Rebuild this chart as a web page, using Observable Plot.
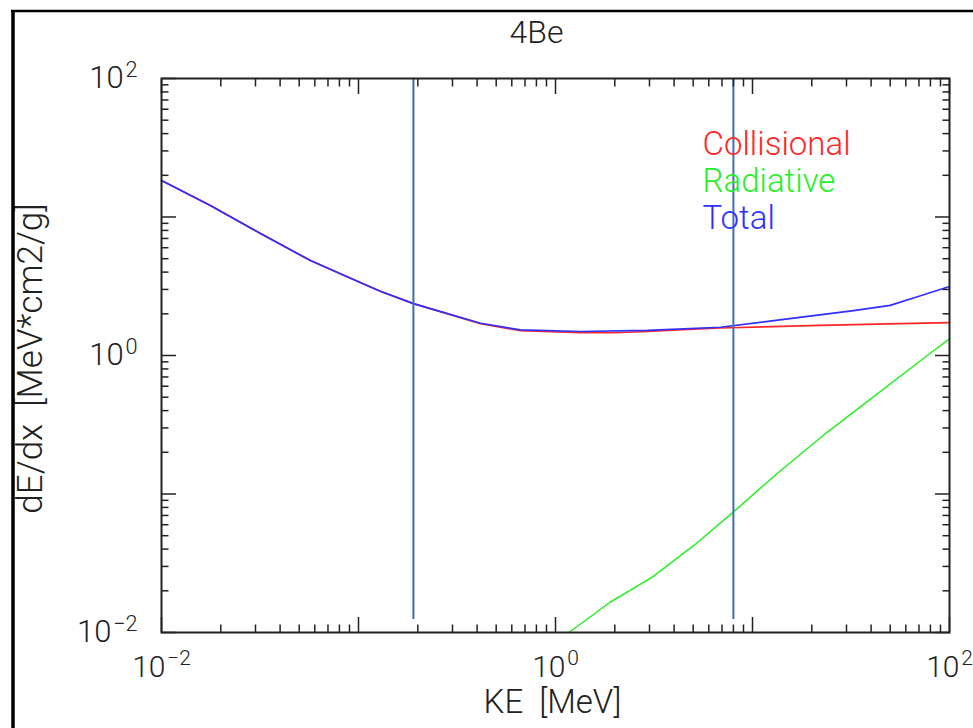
<!DOCTYPE html>
<html><head><meta charset="utf-8">
<script src="https://cdn.jsdelivr.net/npm/d3@7"></script>
<script src="https://cdn.jsdelivr.net/npm/@observablehq/plot@0.6"></script>
<style>html,body{margin:0;padding:0;background:#fff;overflow:hidden}</style>
</head><body><div id="chart"></div>
<script>
// ---- data ----
const title = "4Be";
const xLabel = "KE  [MeV]";
const yLabel = "dE/dx  [MeV*cm2/g]";
const seriesNames = ["Collisional", "Radiative", "Total"];
const seriesColors = ["#ff2626", "#26f026", "#3030ff"];

const energyColl = [0.01, 0.0177, 0.0318, 0.057, 0.102, 0.129, 0.19, 0.416, 0.664, 1.34, 1.97, 2.93, 6.88, 22.1, 48.4, 100];
const collisional = [18.35, 12.1, 7.6, 4.85, 3.37, 2.91, 2.37, 1.70, 1.51, 1.46, 1.46, 1.49, 1.58, 1.65, 1.69, 1.73];

const energyRad = [1.17, 1.90, 3.10, 5.04, 7.98, 13.3, 23.9, 43.0, 77.1, 100];
const radiative = [0.0100, 0.0166, 0.0251, 0.0425, 0.0740, 0.140, 0.279, 0.529, 1.00, 1.32];

const energyTot = [0.01, 0.0177, 0.0318, 0.057, 0.102, 0.129, 0.19, 0.416, 0.664, 1.34, 2.93, 6.88, 15.1, 32.6, 50, 71.3, 100];
const total = [18.35, 12.1, 7.6, 4.85, 3.37, 2.91, 2.37, 1.71, 1.53, 1.49, 1.52, 1.60, 1.84, 2.11, 2.30, 2.70, 3.15];

const markerEnergies = [0.19, 8.0];
const markerBottom = 0.0124;
const markerTop = 100;

const domain = [0.01, 100];
const majorTicks = [0.01, 0.1, 1, 10, 100];
const labelTicks = [0.01, 1, 100];
const minorTicks = [];
for (const p of [-2, -1, 0, 1]) for (let m = 2; m <= 9; m++) minorTicks.push(m * Math.pow(10, p));

// ---- build tables ----
const toRows = (xs, ys) => xs.map((x, i) => ({E: x, v: ys[i]}));
const collRows = toRows(energyColl, collisional);
const radRows = toRows(energyRad, radiative);
const totRows = toRows(energyTot, total);

const fmt = d => "10^" + Math.round(Math.log10(d));
const blank = () => "";
const axisCol = "#222";

const tickAxes = [];
for (const [axisFn, anchor] of [[Plot.axisX, "bottom"], [Plot.axisX, "top"], [Plot.axisY, "left"], [Plot.axisY, "right"]]) {
  tickAxes.push(axisFn({anchor, label: null, ticks: majorTicks, tickSize: -15, tickFormat: blank, stroke: axisCol, strokeWidth: 1.5}));
  tickAxes.push(axisFn({anchor, label: null, ticks: minorTicks, tickSize: -7.5, tickFormat: blank, stroke: axisCol, strokeWidth: 1.5}));
}

const chart = Plot.plot({
  width: 973,
  height: 728,
  marginLeft: 161,
  marginRight: 24,
  marginTop: 78,
  marginBottom: 96,
  style: {fontFamily: "Roboto, 'DejaVu Sans', sans-serif", fontWeight: 300, background: "#fff", color: axisCol},
  x: {type: "log", domain, label: null},
  y: {type: "log", domain, label: null},
  marks: [
    Plot.line(collRows, {x: "E", y: "v", stroke: seriesColors[0], strokeWidth: 1.7}),
    Plot.line(radRows, {x: "E", y: "v", stroke: seriesColors[1], strokeWidth: 1.5}),
    Plot.line(totRows, {x: "E", y: "v", stroke: seriesColors[2], strokeWidth: 1.7}),
    Plot.ruleX(markerEnergies, {x: d => d, y1: markerBottom, y2: markerTop, stroke: "#3b6fb6", strokeWidth: 2}),
    Plot.frame({stroke: axisCol, strokeWidth: 2}),
    ...tickAxes,
    Plot.axisX({anchor: "bottom", label: null, ticks: labelTicks, tickSize: 0, tickPadding: 23, tickFormat: fmt, fontSize: 30, fill: axisCol}),
    Plot.axisY({anchor: "left", label: null, ticks: labelTicks, tickSize: 0, tickPadding: 24, tickFormat: fmt, fontSize: 31, fill: axisCol}),
    ...seriesNames.map((s, i) => Plot.text([s], {frameAnchor: "top-left", dx: 541, dy: 76 + i * 37, text: d => d, textAnchor: "start", lineAnchor: "bottom", fill: seriesColors[i], fontSize: 33})),
    Plot.text([title], {frameAnchor: "top", dx: -19, dy: -36, text: d => d, textAnchor: "middle", lineAnchor: "bottom", fontSize: 32, fill: axisCol}),
    Plot.text([xLabel], {frameAnchor: "bottom", dx: -3, dy: 80, text: d => d, textAnchor: "middle", lineAnchor: "bottom", fontSize: 33, fill: axisCol}),
    Plot.text([yLabel], {frameAnchor: "left", dx: -120, dy: 3, rotate: -90, text: d => d, textAnchor: "middle", lineAnchor: "bottom", fontSize: 35, fill: axisCol})
  ]
});

// superscript exponents in tick labels
d3.select(chart).selectAll("text").each(function () {
  const t = this.textContent;
  const m = /^10\^(.+)$/.exec(t);
  if (m) {
    const el = d3.select(this);
    el.text("10");
    el.append("tspan").attr("dy", "-0.55em").attr("font-size", "0.7em").attr("dx", "0.08em").text(m[1].replace("-", "\u2212"));
  }
});

// outer frame lines (left and top)
const svg = d3.select(chart);
svg.append("line").attr("x1", 13).attr("x2", 13).attr("y1", 10).attr("y2", 728).attr("stroke", "#000").attr("stroke-width", 3.5);
svg.append("line").attr("x1", 11).attr("x2", 973).attr("y1", 11).attr("y2", 11).attr("stroke", "#000").attr("stroke-width", 2.5);

document.getElementById("chart").appendChild(chart);
</script></body></html>
